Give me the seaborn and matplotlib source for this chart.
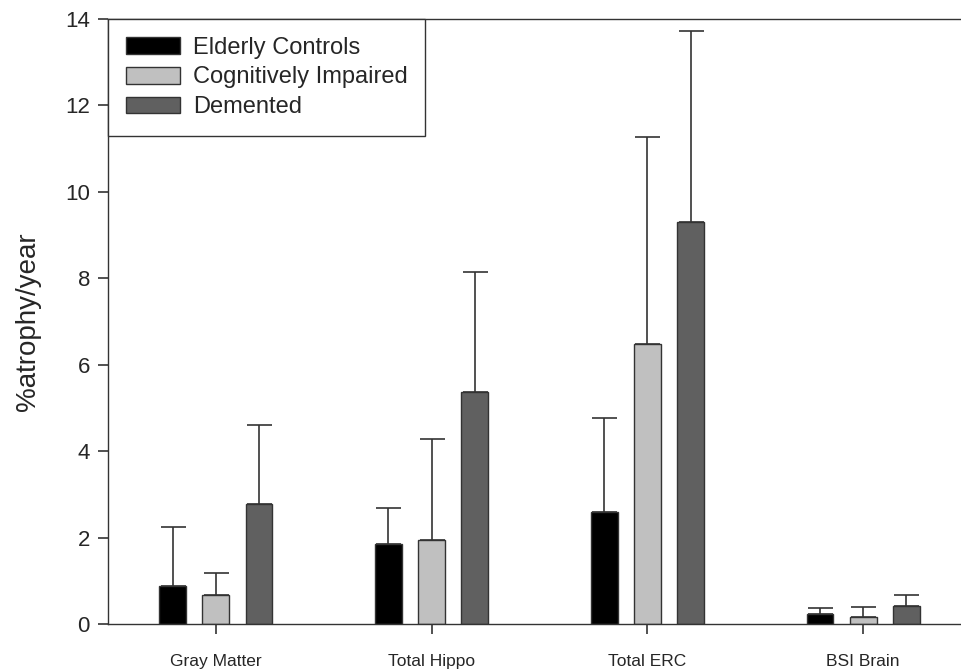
import numpy as np
import pandas as pd
import matplotlib
matplotlib.use("Agg")
import matplotlib.pyplot as plt
import seaborn as sns

sns.set_theme(style="white")
plt.rcParams['font.family'] = ['Liberation Sans', 'DejaVu Sans']
plt.rcParams['xtick.bottom'] = True
plt.rcParams['ytick.left'] = True

regions = ['Gray Matter', 'Total Hippo', 'Total ERC', 'BSI Brain']
groups = ['Elderly Controls', 'Cognitively Impaired', 'Demented']
# mean atrophy per group, in region order
controls = [0.87, 1.84, 2.59, 0.22]
impaired = [0.66, 1.94, 6.47, 0.16]
demented = [2.78, 5.38, 9.30, 0.42]
# top of the error bar (mean + sd)
controls_top = [2.25, 2.68, 4.77, 0.36]
impaired_top = [1.19, 4.29, 11.27, 0.40]
demented_top = [4.60, 8.15, 13.73, 0.67]

colors = ['#000000', '#c0c0c0', '#606060']

df = pd.DataFrame({
    'region': regions * 3,
    'group': np.repeat(groups, len(regions)),
    'value': controls + impaired + demented,
    'top': controls_top + impaired_top + demented_top,
})

fig = plt.figure(figsize=(9.61, 6.70), dpi=100)
ax = fig.add_axes([108/961, 46/670, 863/961, 605/670])

sns.barplot(data=df, x='region', y='value', hue='group', hue_order=groups,
            palette=colors, width=0.6, gap=0.38, errorbar=None,
            edgecolor='#333333', linewidth=1, saturation=1, ax=ax)

# one-sided error bars on top of each bar
for cont, g in zip(ax.containers, groups):
    sub = df[df['group'] == g].set_index('region').loc[regions]
    xs = [p.get_x() + p.get_width() / 2 for p in cont.patches]
    lower = np.zeros(len(xs))
    upper = sub['top'].values - sub['value'].values
    ax.errorbar(xs, sub['value'].values, yerr=[lower, upper], fmt='none',
                ecolor='#333333', elinewidth=1.2, capsize=9, capthick=1.2, zorder=3)

ax.set_xlim(-0.5, 3.5)
ax.set_ylim(0, 14)
ax.set_yticks(np.arange(0, 15, 2))
ax.set_ylabel('%atrophy/year', fontsize=20, labelpad=17)
ax.set_xlabel('')
ax.tick_params(axis='y', which='major', direction='out', length=7, width=1.2,
               color='#333333', labelsize=16, pad=6, left=True)
ax.tick_params(axis='x', which='major', direction='out', length=7, width=1.2,
               color='#333333', labelsize=12.5, pad=14.5, bottom=True)
for s in ax.spines.values():
    s.set_color('#333333')
    s.set_linewidth(1)

leg = ax.legend(loc='upper left', borderaxespad=0, fontsize=17, frameon=True,
                fancybox=False, edgecolor='#333333', framealpha=1,
                handlelength=2.3, handleheight=0.72, handletextpad=0.55,
                labelspacing=0.33, borderpad=0.75)
leg.get_frame().set_linewidth(1)

fig.savefig('out.png', dpi=100)
